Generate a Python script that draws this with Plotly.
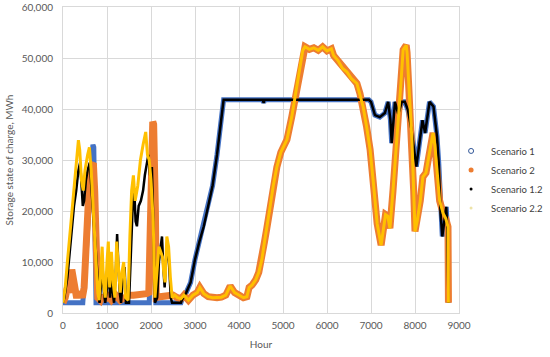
import plotly.graph_objects as go

# ---------------- data ----------------
# Scenario 1 (early part, hours 0-2680)
s1_hours_early = [0, 450, 500, 550, 600, 650, 680, 700, 720, 750, 1960, 2000, 2040, 2060, 2090, 2110, 2680]
s1_soc_early = [2000, 2000, 8000, 15000, 22000, 29000, 33000, 32500, 20000, 2000, 2000, 20000, 30000, 36000, 10000, 2000, 2000]

# Scenario 1.2 (early part)
s12_hours_early = [0, 30, 100, 150, 200, 250, 300, 350, 390, 420, 450, 480, 520, 560, 610, 650, 700, 750,
                   780, 800, 830, 870, 900, 930, 960, 1000, 1040, 1070, 1100, 1130, 1160, 1200, 1230, 1260,
                   1290, 1320, 1360, 1400, 1430, 1500, 1540, 1580, 1620, 1650, 1680, 1720, 1770, 1820, 1860,
                   1900, 1940, 1980, 2020, 2060, 2090, 2140, 2180, 2220, 2250, 2280, 2310, 2340, 2390, 2420,
                   2450, 2480, 2680]
s12_soc_early = [2000, 3000, 7000, 12000, 17000, 21000, 24000, 28000, 29500, 25000, 21000, 22000, 26000, 28000,
                 29500, 24000, 18000, 12500, 8000, 4000, 2000, 6000, 9000, 4000, 2000, 5000, 8000, 3000, 10000,
                 4000, 2000, 8000, 15500, 9000, 4000, 2000, 7000, 9000, 2000, 2000, 12000, 20000, 24000, 18000,
                 17000, 21000, 22000, 24000, 27000, 29000, 31000, 27000, 28600, 15000, 2000, 3000, 10000, 13000,
                 15000, 9000, 5000, 10000, 13000, 8000, 3000, 2000, 2000]

# Scenarios 1 and 1.2 (late part, hours 2700-8760, both coincide)
s1_hours_late = [2700, 2800, 2900, 3000, 3100, 3200, 3300, 3400, 3500, 3600, 3650, 4540, 4560, 4580, 6950,
                 7000, 7090, 7200, 7315, 7390, 7440, 7470, 7500, 7545, 7620, 7700, 7770, 7840, 7920, 7990,
                 8030, 8110, 8170, 8230, 8330, 8420, 8500, 8540, 8580, 8620, 8670, 8710, 8735, 8760]
s1_soc_late = [2500, 4000, 6000, 10500, 14000, 17000, 21000, 25000, 31000, 38500, 41800, 41800, 41200, 41800,
               41800, 41400, 38800, 38400, 39200, 41400, 38000, 33300, 37200, 41400, 39000, 41400, 41400, 39800,
               35900, 31300, 28700, 33900, 37800, 35300, 41400, 40500, 34600, 29400, 19600, 15000, 18900, 20800,
               16300, 2000]

# Scenario 2 (early part)
s2_hours_early = [0, 50, 100, 150, 200, 250, 300, 350, 400, 440, 480, 520, 560, 600, 650, 690, 720, 760, 790,
                  850, 900, 950, 1000, 1100, 1200, 1300, 1400, 1500, 1600, 1700, 1800, 1900, 1950, 2000, 2040,
                  2060, 2100, 2120, 2200, 2300, 2400, 2500, 2600, 2680]
s2_soc_early = [2000, 3000, 5000, 4000, 8500, 5000, 3500, 3500, 4000, 3000, 5000, 12000, 20000, 26000, 29000,
                29400, 24000, 12500, 3000, 2500, 3500, 2500, 3500, 2500, 3500, 2500, 3000, 3500, 3500, 3500,
                3600, 3800, 4000, 25000, 37500, 37000, 20000, 3000, 3200, 3300, 3300, 3500, 3000, 2800]

# Scenario 2.2 (early part)
s22_hours_early = [0, 50, 100, 150, 200, 250, 300, 350, 380, 420, 460, 500, 560, 600, 640, 680, 720, 760, 790,
                   820, 860, 890, 920, 960, 1000, 1030, 1060, 1100, 1140, 1180, 1220, 1260, 1300, 1340, 1380,
                   1420, 1480, 1520, 1560, 1600, 1640, 1700, 1760, 1820, 1880, 1920, 1960, 2000, 2050, 2090,
                   2140, 2180, 2220, 2260, 2290, 2320, 2360, 2400, 2440, 2480, 2540, 2600, 2680]
s22_soc_early = [2000, 5000, 10000, 15000, 20000, 25000, 29000, 33900, 32000, 26000, 24000, 28000, 31000,
                 32500, 28000, 22000, 16000, 10000, 4000, 2500, 9000, 13000, 6000, 3000, 10000, 14000, 5000,
                 12000, 6000, 3000, 14000, 8000, 4000, 8000, 10000, 3000, 2500, 15000, 24000, 27000, 22000,
                 25000, 30000, 33000, 35500, 31000, 30000, 26000, 18000, 3000, 8000, 13000, 12000, 11000, 8000,
                 6000, 15000, 13000, 7000, 3000, 3500, 3000, 2800]

# Scenarios 2 and 2.2 (late part, both coincide)
s2_hours_late = [2750, 2850, 2950, 3050, 3110, 3200, 3300, 3400, 3500, 3600, 3700, 3800, 3900, 4000, 4100,
                 4180, 4230, 4300, 4380, 4450, 4520, 4580, 4630, 4700, 4780, 4860, 4950, 5090, 5200, 5270,
                 5350, 5450, 5500, 5600, 5700, 5800, 5900, 6000, 6100, 6150, 6250, 6350, 6450, 6550, 6680,
                 6750, 6820, 6900, 6980, 7060, 7140, 7230, 7290, 7330, 7380, 7430, 7500, 7590, 7680, 7730,
                 7800, 7820, 7860, 7930, 7970, 8000, 8050, 8120, 8180, 8250, 8300, 8360, 8410, 8450, 8500,
                 8560, 8640, 8700, 8750, 8760]
s2_soc_late = [3500, 2500, 3500, 4000, 5000, 3800, 3200, 3000, 3000, 3100, 3500, 5300, 4000, 3500, 3000,
               3200, 5000, 5500, 6500, 8000, 10500, 14000, 16500, 20500, 25000, 28600, 31500, 34000, 38500,
               42000, 46500, 51500, 52200, 51700, 52000, 51500, 52200, 51400, 51800, 50500, 49500, 48000,
               47300, 46000, 45000, 43000, 40500, 36500, 32000, 25000, 17500, 13300, 16500, 19300, 19000,
               16600, 24000, 34000, 45000, 51600, 52500, 51000, 44000, 34000, 24000, 16000, 18000, 22000,
               26700, 27500, 30000, 33000, 35300, 33000, 28000, 22000, 19500, 18500, 16900, 2000]

series_names = ["Scenario 1", "Scenario 2", "Scenario 1.2", "Scenario 2.2"]
x_ticks = [0, 1000, 2000, 3000, 4000, 5000, 6000, 7000, 8000, 9000]
y_ticks = [0, 10000, 20000, 30000, 40000, 50000, 60000]

# ---------------- figure ----------------
FONT = "Lato, 'Open Sans', sans-serif"
fig = go.Figure()

line_traces = [
    (series_names[0], s1_hours_early + s1_hours_late, s1_soc_early + s1_soc_late, "#4472C4", 5),
    (series_names[1], s2_hours_early + s2_hours_late, s2_soc_early + s2_soc_late, "#ED7D31", 7),
    (series_names[2], s12_hours_early + s1_hours_late, s12_soc_early + s1_soc_late, "#000000", 2.5),
    (series_names[3], s22_hours_early + s2_hours_late, s22_soc_early + s2_soc_late, "#FFC000", 3),
]
for name, xs, ys, col, w in line_traces:
    fig.add_trace(go.Scatter(x=xs, y=ys, mode="lines", name=name, legendgroup=name,
                             showlegend=False, line=dict(color=col, width=w)))

legend_markers = [
    dict(symbol="circle-open", size=5, color="#2F5597", line=dict(width=1, color="#2F5597")),
    dict(symbol="circle", size=5, color="#ED7D31"),
    dict(symbol="circle", size=3, color="#000000"),
    dict(symbol="circle", size=3, color="#EDE3A8"),
]
for name, mk in zip(series_names, legend_markers):
    fig.add_trace(go.Scatter(x=[None], y=[None], mode="markers", name=name, legendgroup=name,
                             marker=mk, showlegend=True))

fig.update_layout(
    width=550, height=357,
    margin=dict(l=63, r=91, t=7, b=44, autoexpand=False),
    paper_bgcolor="white", plot_bgcolor="white",
    font=dict(family=FONT, size=10, color="#595959"),
    legend=dict(x=0.98, y=0.577, xanchor="left", yanchor="top",
                font=dict(size=9.5, color="#404040"), tracegroupgap=0,
                itemsizing="trace", bgcolor="rgba(0,0,0,0)"),
    xaxis=dict(range=[0, 9000], tickvals=x_ticks, showgrid=True, gridcolor="#D9D9D9", gridwidth=1,
               zeroline=False, showline=True, linecolor="#D9D9D9", mirror=True, automargin=False,
               ticks="", ticklabelstandoff=3,
               title=dict(text="Hour", font=dict(size=10, color="#595959"), standoff=10)),
    yaxis=dict(range=[0, 60000], tickvals=y_ticks, tickformat=",", showgrid=True, gridcolor="#D9D9D9",
               gridwidth=1, zeroline=False, showline=True, linecolor="#D9D9D9", mirror=True, automargin=False,
               ticks="", ticklabelstandoff=7,
               title=dict(text="Storage state of charge, MWh", font=dict(size=10, color="#595959"),
                          standoff=6)),
)

fig.write_html("out.html", config={"displayModeBar": False},
               post_script="document.body.style.margin='0';")
